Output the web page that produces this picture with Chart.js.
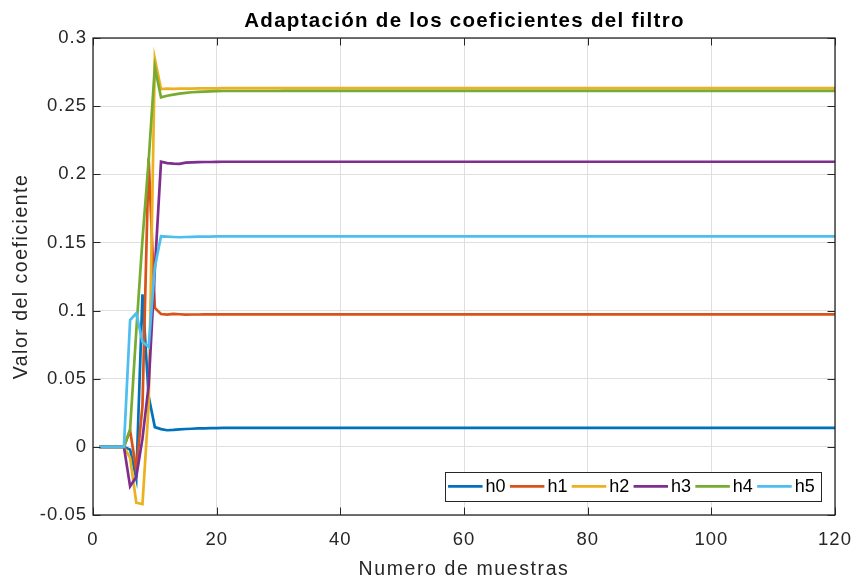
<!DOCTYPE html>
<html lang="es">
<head>
<meta charset="utf-8">
<title>Adaptación de los coeficientes del filtro</title>
<script src="https://cdn.jsdelivr.net/npm/chart.js@4.4.1/dist/chart.umd.min.js"></script>
<style>
  html, body { margin: 0; padding: 0; background: #ffffff; }
  #wrap { width: 852px; height: 577px; }
</style>
</head>
<body>
<div id="wrap"><canvas id="grafica" width="852" height="577"></canvas></div>
<script>
// Iteration index of the adaptive filter
const muestras = [
  1, 2, 3, 4, 5, 6, 7, 8, 9, 10,
  11, 12, 13, 14, 15, 16, 17, 18, 19, 20,
  21, 22, 23, 24, 25, 26, 27, 28, 29, 30,
  31, 32, 33, 34, 35, 36, 37, 38, 39, 40,
  41, 42, 43, 44, 45, 46, 47, 48, 49, 50,
  51, 52, 53, 54, 55, 56, 57, 58, 59, 60,
  61, 62, 63, 64, 65, 66, 67, 68, 69, 70,
  71, 72, 73, 74, 75, 76, 77, 78, 79, 80,
  81, 82, 83, 84, 85, 86, 87, 88, 89, 90,
  91, 92, 93, 94, 95, 96, 97, 98, 99, 100,
  101, 102, 103, 104, 105, 106, 107, 108, 109, 110,
  111, 112, 113, 114, 115, 116, 117, 118, 119, 120
];

// Coefficient trajectories h0..h5
const h0 = [
  0, 0, 0, 0, 0, -0.002, -0.023, 0.112, 0.037, 0.0145,
  0.013, 0.0122, 0.0124, 0.0128, 0.0131, 0.0133, 0.0135, 0.0136, 0.0137, 0.0138,
  0.0139, 0.0139, 0.0139, 0.0139, 0.0139, 0.0139, 0.0139, 0.0139, 0.0139, 0.0139,
  0.014, 0.014, 0.014, 0.014, 0.014, 0.014, 0.014, 0.014, 0.014, 0.014,
  0.014, 0.014, 0.014, 0.014, 0.014, 0.014, 0.014, 0.014, 0.014, 0.014,
  0.014, 0.014, 0.014, 0.014, 0.014, 0.014, 0.014, 0.014, 0.014, 0.014,
  0.014, 0.014, 0.014, 0.014, 0.014, 0.014, 0.014, 0.014, 0.014, 0.014,
  0.014, 0.014, 0.014, 0.014, 0.014, 0.014, 0.014, 0.014, 0.014, 0.014,
  0.014, 0.014, 0.014, 0.014, 0.014, 0.014, 0.014, 0.014, 0.014, 0.014,
  0.014, 0.014, 0.014, 0.014, 0.014, 0.014, 0.014, 0.014, 0.014, 0.014,
  0.014, 0.014, 0.014, 0.014, 0.014, 0.014, 0.014, 0.014, 0.014, 0.014,
  0.014, 0.014, 0.014, 0.014, 0.014, 0.014, 0.014, 0.014, 0.014, 0.014
];
const h1 = [
  0, 0, 0, 0, 0, 0.012, -0.017, 0.03, 0.212, 0.102,
  0.0975, 0.097, 0.0976, 0.0973, 0.097, 0.0971, 0.0971, 0.0972, 0.0972, 0.0972,
  0.0972, 0.0972, 0.0972, 0.0972, 0.0972, 0.0972, 0.0972, 0.0972, 0.0972, 0.0972,
  0.0972, 0.0972, 0.0972, 0.0972, 0.0972, 0.0972, 0.0972, 0.0972, 0.0972, 0.0972,
  0.0972, 0.0972, 0.0972, 0.0972, 0.0972, 0.0972, 0.0972, 0.0972, 0.0972, 0.0972,
  0.0972, 0.0972, 0.0972, 0.0972, 0.0972, 0.0972, 0.0972, 0.0972, 0.0972, 0.0972,
  0.0972, 0.0972, 0.0972, 0.0972, 0.0972, 0.0972, 0.0972, 0.0972, 0.0972, 0.0972,
  0.0972, 0.0972, 0.0972, 0.0972, 0.0972, 0.0972, 0.0972, 0.0972, 0.0972, 0.0972,
  0.0972, 0.0972, 0.0972, 0.0972, 0.0972, 0.0972, 0.0972, 0.0972, 0.0972, 0.0972,
  0.0972, 0.0972, 0.0972, 0.0972, 0.0972, 0.0972, 0.0972, 0.0972, 0.0972, 0.0972,
  0.0972, 0.0972, 0.0972, 0.0972, 0.0972, 0.0972, 0.0972, 0.0972, 0.0972, 0.0972,
  0.0972, 0.0972, 0.0972, 0.0972, 0.0972, 0.0972, 0.0972, 0.0972, 0.0972, 0.0972
];
const h2 = [
  0, 0, 0, 0, 0, -0.008, -0.041, -0.042, 0.03, 0.2848,
  0.2625, 0.2628, 0.2627, 0.2628, 0.2628, 0.2629, 0.263, 0.263, 0.2631, 0.2631,
  0.2632, 0.2632, 0.2632, 0.2632, 0.2632, 0.2632, 0.2632, 0.2632, 0.2632, 0.2632,
  0.2632, 0.2632, 0.2632, 0.2632, 0.2632, 0.2632, 0.2632, 0.2632, 0.2632, 0.2632,
  0.2632, 0.2632, 0.2632, 0.2632, 0.2632, 0.2632, 0.2632, 0.2632, 0.2632, 0.2632,
  0.2632, 0.2632, 0.2632, 0.2632, 0.2632, 0.2632, 0.2632, 0.2632, 0.2632, 0.2632,
  0.2632, 0.2632, 0.2632, 0.2632, 0.2632, 0.2632, 0.2632, 0.2632, 0.2632, 0.2632,
  0.2632, 0.2632, 0.2632, 0.2632, 0.2632, 0.2632, 0.2632, 0.2632, 0.2632, 0.2632,
  0.2632, 0.2632, 0.2632, 0.2632, 0.2632, 0.2632, 0.2632, 0.2632, 0.2632, 0.2632,
  0.2632, 0.2632, 0.2632, 0.2632, 0.2632, 0.2632, 0.2632, 0.2632, 0.2632, 0.2632,
  0.2632, 0.2632, 0.2632, 0.2632, 0.2632, 0.2632, 0.2632, 0.2632, 0.2632, 0.2632,
  0.2632, 0.2632, 0.2632, 0.2632, 0.2632, 0.2632, 0.2632, 0.2632, 0.2632, 0.2632
];
const h3 = [
  0, 0, 0, 0, 0, -0.029, -0.022, 0.006, 0.045, 0.13,
  0.2092, 0.2082, 0.2078, 0.2077, 0.2085, 0.2088, 0.2089, 0.209, 0.209, 0.2091,
  0.2092, 0.2092, 0.2092, 0.2092, 0.2092, 0.2092, 0.2092, 0.2092, 0.2092, 0.2092,
  0.2092, 0.2092, 0.2092, 0.2092, 0.2092, 0.2092, 0.2092, 0.2092, 0.2092, 0.2092,
  0.2092, 0.2092, 0.2092, 0.2092, 0.2092, 0.2092, 0.2092, 0.2092, 0.2092, 0.2092,
  0.2092, 0.2092, 0.2092, 0.2092, 0.2092, 0.2092, 0.2092, 0.2092, 0.2092, 0.2092,
  0.2092, 0.2092, 0.2092, 0.2092, 0.2092, 0.2092, 0.2092, 0.2092, 0.2092, 0.2092,
  0.2092, 0.2092, 0.2092, 0.2092, 0.2092, 0.2092, 0.2092, 0.2092, 0.2092, 0.2092,
  0.2092, 0.2092, 0.2092, 0.2092, 0.2092, 0.2092, 0.2092, 0.2092, 0.2092, 0.2092,
  0.2092, 0.2092, 0.2092, 0.2092, 0.2092, 0.2092, 0.2092, 0.2092, 0.2092, 0.2092,
  0.2092, 0.2092, 0.2092, 0.2092, 0.2092, 0.2092, 0.2092, 0.2092, 0.2092, 0.2092,
  0.2092, 0.2092, 0.2092, 0.2092, 0.2092, 0.2092, 0.2092, 0.2092, 0.2092, 0.2092
];
const h4 = [
  0, 0, 0, 0, 0, 0.013, 0.085, 0.152, 0.21, 0.2786,
  0.2564, 0.2576, 0.2584, 0.2592, 0.2598, 0.2602, 0.2605, 0.2607, 0.2609, 0.261,
  0.2611, 0.2611, 0.2611, 0.2611, 0.2611, 0.2611, 0.2611, 0.2611, 0.2611, 0.2611,
  0.2612, 0.2612, 0.2612, 0.2612, 0.2612, 0.2612, 0.2612, 0.2612, 0.2612, 0.2612,
  0.2612, 0.2612, 0.2612, 0.2612, 0.2612, 0.2612, 0.2612, 0.2612, 0.2612, 0.2612,
  0.2612, 0.2612, 0.2612, 0.2612, 0.2612, 0.2612, 0.2612, 0.2612, 0.2612, 0.2612,
  0.2612, 0.2612, 0.2612, 0.2612, 0.2612, 0.2612, 0.2612, 0.2612, 0.2612, 0.2612,
  0.2612, 0.2612, 0.2612, 0.2612, 0.2612, 0.2612, 0.2612, 0.2612, 0.2612, 0.2612,
  0.2612, 0.2612, 0.2612, 0.2612, 0.2612, 0.2612, 0.2612, 0.2612, 0.2612, 0.2612,
  0.2612, 0.2612, 0.2612, 0.2612, 0.2612, 0.2612, 0.2612, 0.2612, 0.2612, 0.2612,
  0.2612, 0.2612, 0.2612, 0.2612, 0.2612, 0.2612, 0.2612, 0.2612, 0.2612, 0.2612,
  0.2612, 0.2612, 0.2612, 0.2612, 0.2612, 0.2612, 0.2612, 0.2612, 0.2612, 0.2612
];
const h5 = [
  0, 0, 0, 0, 0, 0.093, 0.098, 0.077, 0.0734, 0.132,
  0.1545, 0.1542, 0.154, 0.1538, 0.154, 0.1541, 0.1542, 0.1543, 0.1543, 0.1544,
  0.1544, 0.1544, 0.1544, 0.1544, 0.1544, 0.1544, 0.1544, 0.1544, 0.1544, 0.1544,
  0.1544, 0.1544, 0.1544, 0.1544, 0.1544, 0.1544, 0.1544, 0.1544, 0.1544, 0.1544,
  0.1544, 0.1544, 0.1544, 0.1544, 0.1544, 0.1544, 0.1544, 0.1544, 0.1544, 0.1544,
  0.1544, 0.1544, 0.1544, 0.1544, 0.1544, 0.1544, 0.1544, 0.1544, 0.1544, 0.1544,
  0.1544, 0.1544, 0.1544, 0.1544, 0.1544, 0.1544, 0.1544, 0.1544, 0.1544, 0.1544,
  0.1544, 0.1544, 0.1544, 0.1544, 0.1544, 0.1544, 0.1544, 0.1544, 0.1544, 0.1544,
  0.1544, 0.1544, 0.1544, 0.1544, 0.1544, 0.1544, 0.1544, 0.1544, 0.1544, 0.1544,
  0.1544, 0.1544, 0.1544, 0.1544, 0.1544, 0.1544, 0.1544, 0.1544, 0.1544, 0.1544,
  0.1544, 0.1544, 0.1544, 0.1544, 0.1544, 0.1544, 0.1544, 0.1544, 0.1544, 0.1544,
  0.1544, 0.1544, 0.1544, 0.1544, 0.1544, 0.1544, 0.1544, 0.1544, 0.1544, 0.1544
];

const nombres = ['h0', 'h1', 'h2', 'h3', 'h4', 'h5'];
const series = [h0, h1, h2, h3, h4, h5];
const colores = ['#0072BD', '#D95319', '#EDB120', '#7E2F8E', '#77AC30', '#4DBEEE'];

const xTicks = [0, 20, 40, 60, 80, 100, 120];
const xTickLabels = ['0', '20', '40', '60', '80', '100', '120'];
const yTicks = [-0.05, 0, 0.05, 0.1, 0.15, 0.2, 0.25, 0.3];
const yTickLabels = ['-0.05', '0', '0.05', '0.1', '0.15', '0.2', '0.25', '0.3'];

const titulo = 'Adaptación de los coeficientes del filtro';
const tituloX = 'Numero de muestras';
const tituloY = 'Valor del coeficiente';

const FAMILIA = '"Liberation Sans", Arial, Helvetica, sans-serif';
const TINTA = '#262626';

// Axes box, inward tick marks, legend and titles (MATLAB-like figure)
const marcoFigura = {
  id: 'marcoFigura',
  beforeLayout(chart) {
    chart.ctx.letterSpacing = '1px';
  },
  beforeDraw(chart) {
    const ctx = chart.ctx;
    ctx.save();
    ctx.fillStyle = '#ffffff';
    ctx.fillRect(0, 0, chart.width, chart.height);
    ctx.restore();
    ctx.letterSpacing = '1px';
  },
  afterDatasetsDraw(chart) {
    const ctx = chart.ctx;
    const a = chart.chartArea;
    const sx = chart.scales.x, sy = chart.scales.y;
    const largo = 7.5;
    ctx.save();
    ctx.strokeStyle = TINTA;
    ctx.lineWidth = 1;
    ctx.beginPath();
    xTicks.forEach(v => {
      const p = Math.round(sx.getPixelForValue(v)) + 0.5;
      ctx.moveTo(p, a.bottom); ctx.lineTo(p, a.bottom - largo);
      ctx.moveTo(p, a.top); ctx.lineTo(p, a.top + largo);
    });
    yTicks.forEach(v => {
      const p = Math.round(sy.getPixelForValue(v)) + 0.5;
      ctx.moveTo(a.left, p); ctx.lineTo(a.left + largo, p);
      ctx.moveTo(a.right, p); ctx.lineTo(a.right - largo, p);
    });
    ctx.stroke();
    ctx.lineWidth = 1.3;
    ctx.strokeRect(a.left, a.top, a.right - a.left, a.bottom - a.top);

    // legend, one row, anchored to the lower right corner
    const fuente = '18px ' + FAMILIA;
    ctx.font = fuente;
    ctx.letterSpacing = '0px';
    const linea = 34.5, hueco = 3, sep = 4.3, margenIzq = 3.3, margenDer = 6;
    const anchos = nombres.map(n => ctx.measureText(n).width);
    let ancho = margenIzq + margenDer;
    anchos.forEach((w, i) => { ancho += linea + hueco + w + (i < anchos.length - 1 ? sep : 0); });
    const alto = 29.3;
    const x0 = a.right - 14.3 - ancho;
    const y0 = a.bottom - 14 - alto;
    ctx.fillStyle = '#ffffff';
    ctx.fillRect(x0, y0, ancho, alto);
    ctx.strokeStyle = TINTA;
    ctx.lineWidth = 1;
    ctx.strokeRect(Math.round(x0) + 0.5, Math.round(y0) + 0.5, Math.round(ancho), Math.round(alto));
    let cx = x0 + margenIzq;
    const cy = y0 + alto / 2;
    nombres.forEach((n, i) => {
      ctx.strokeStyle = colores[i];
      ctx.lineWidth = 2.6;
      ctx.beginPath();
      ctx.moveTo(cx, cy); ctx.lineTo(cx + linea, cy);
      ctx.stroke();
      ctx.fillStyle = '#000000';
      ctx.textAlign = 'left';
      ctx.textBaseline = 'middle';
      ctx.fillText(n, cx + linea + hueco, cy + 1);
      cx += linea + hueco + anchos[i] + sep;
    });
    ctx.restore();
  },
  afterDraw(chart) {
    const ctx = chart.ctx;
    const a = chart.chartArea;
    const centroX = (a.left + a.right) / 2;
    const centroY = (a.top + a.bottom) / 2;
    ctx.save();
    ctx.fillStyle = '#000000';
    ctx.textAlign = 'center';
    ctx.textBaseline = 'alphabetic';
    ctx.font = 'bold 20.5px ' + FAMILIA;
    ctx.letterSpacing = '1.3px';
    ctx.fillText(titulo, centroX + 0.5, 26.5);

    ctx.fillStyle = TINTA;
    ctx.font = '19.5px ' + FAMILIA;
    ctx.letterSpacing = '1.6px';
    ctx.fillText(tituloX, centroX, 575);

    ctx.translate(26.7, centroY);
    ctx.rotate(-Math.PI / 2);
    ctx.letterSpacing = '1.5px';
    ctx.fillText(tituloY, 0, 0);
    ctx.restore();
  }
};

const datasets = nombres.map((n, i) => ({
  label: n,
  data: muestras.map((m, k) => ({ x: m, y: series[i][k] })),
  borderColor: colores[i],
  backgroundColor: colores[i],
  borderWidth: 2.7,
  pointRadius: 0,
  pointHoverRadius: 0,
  fill: false,
  tension: 0,
  order: nombres.length - 1 - i
}));

// Keep the plot frame at a fixed place regardless of label overflow
function fijarMargenes(s) {
  s.paddingLeft = 0;
  s.paddingRight = 0;
  s.paddingTop = 0;
  s.paddingBottom = 0;
}

new Chart(document.getElementById('grafica'), {
  type: 'line',
  data: { datasets },
  options: {
    responsive: false,
    animation: false,
    devicePixelRatio: 1,
    layout: { padding: { top: 38, right: 17, left: 0, bottom: 0 } },
    plugins: {
      legend: { display: false },
      title: { display: false },
      tooltip: { enabled: false }
    },
    events: [],
    scales: {
      x: {
        type: 'linear',
        min: 0,
        max: 120,
        afterBuildTicks(s) { s.ticks = xTicks.map(v => ({ value: v })); },
        afterFit(s) { s.height = 62; fijarMargenes(s); },
        ticks: {
          color: TINTA,
          font: { family: FAMILIA, size: 18.5 },
          padding: 14,
          maxRotation: 0,
          autoSkip: false,
          callback: v => xTickLabels[xTicks.indexOf(v)]
        },
        grid: { color: '#dfdfdf', lineWidth: 1, drawTicks: false },
        border: { display: false }
      },
      y: {
        type: 'linear',
        min: -0.05,
        max: 0.3,
        afterBuildTicks(s) { s.ticks = yTicks.map(v => ({ value: v })); },
        afterFit(s) { s.width = 93; fijarMargenes(s); },
        ticks: {
          color: TINTA,
          font: { family: FAMILIA, size: 18.5 },
          padding: 6,
          autoSkip: false,
          callback: v => yTickLabels[yTicks.indexOf(v)]
        },
        grid: { color: '#dfdfdf', lineWidth: 1, drawTicks: false },
        border: { display: false }
      }
    }
  },
  plugins: [marcoFigura]
});
</script>
</body>
</html>
